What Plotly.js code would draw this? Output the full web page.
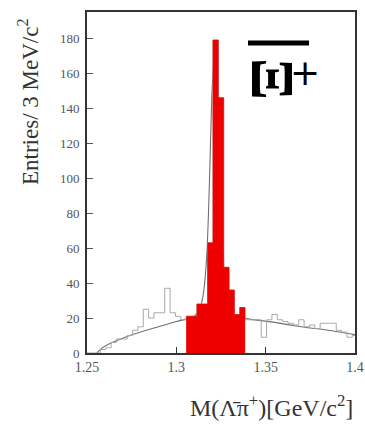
<!DOCTYPE html>
<html>
<head>
<meta charset="utf-8">
<script src="https://cdn.plot.ly/plotly-3.0.1.min.js"></script>
<style>html,body{margin:0;padding:0;background:#fff;}#chart{width:365px;height:430px;}</style>
</head>
<body>
<div id="chart"></div>
<script>
// Invariant mass of anti-Lambda pi+ candidates, 3 MeV bins (bin centres in GeV/c^2)
const massCenters = [
  1.250, 1.253, 1.256, 1.259, 1.262, 1.265, 1.268, 1.271, 1.274, 1.277,
  1.280, 1.283, 1.286, 1.289, 1.292, 1.295, 1.298, 1.301, 1.304, 1.307,
  1.310, 1.313, 1.316, 1.319, 1.322, 1.325, 1.328, 1.331, 1.334, 1.337,
  1.340, 1.343, 1.346, 1.349, 1.352, 1.355, 1.358, 1.361, 1.364, 1.367,
  1.370, 1.373, 1.376, 1.379, 1.382, 1.385, 1.388, 1.391, 1.394, 1.397,
  1.400
];
const entries = [
  0, 0, 0, 2, 3, 6, 8, 8, 10, 13,
  15, 25, 20, 23, 23, 37, 23, 21, 19, 21,
  21, 28, 28, 63, 179, 146, 49, 36, 22, 26,
  19, 19, 19, 9, 19, 22, 19, 18, 17, 16,
  19, 15, 16, 14, 17, 17, 17, 13, 12, 9,
  10
];
const binWidth = 0.003;
// Signal window (filled bins)
const signalLow = 1.305;
const signalHigh = 1.339;

// Fitted line shape (background + peak), sampled points
const fitMass = [1.2555, 1.258, 1.262, 1.270, 1.280, 1.290, 1.300, 1.306, 1.310, 1.313,
                 1.315, 1.317, 1.318, 1.319, 1.320, 1.3215, 1.323, 1.324, 1.325, 1.326,
                 1.327, 1.329, 1.332, 1.336, 1.340, 1.355, 1.370, 1.385, 1.400];
const fitValue = [0, 2.5, 5, 8.5, 12, 15, 18, 19.5, 21, 25,
                  33, 55, 80, 115, 150, 172, 155, 125, 92, 62,
                  42, 27, 21.5, 20.5, 19.5, 17.5, 15, 13, 10.5];

const yTicks = [0, 20, 40, 60, 80, 100, 120, 140, 160, 180];
const xTicks = [1.25, 1.30, 1.35, 1.40];
const xTickText = ['1.25', '1.3', '1.35', '1.4'];

// Step outline of the signal-window bins: left edges plus the closing right edge
const sigEdges = [], sigY = [];
massCenters.forEach((m, i) => {
  if (m > signalLow && m < signalHigh) {
    sigEdges.push(m - binWidth / 2);
    sigY.push(entries[i]);
  }
});
sigEdges.push(sigEdges[sigEdges.length - 1] + binWidth);
sigY.push(sigY[sigY.length - 1]);

const serif = 'Liberation Serif, Times New Roman, serif';

const traces = [
  {
    type: 'scatter', mode: 'lines', x: fitMass, y: fitValue,
    line: {color: '#707070', width: 1.1, shape: 'spline', smoothing: 0.6},
    hoverinfo: 'skip'
  },
  {
    type: 'scatter', mode: 'lines', x: massCenters, y: entries,
    line: {color: '#a8a8a8', width: 1, shape: 'hvh'},
    hoverinfo: 'skip'
  },
  {
    type: 'scatter', mode: 'lines', x: sigEdges, y: sigY,
    line: {color: '#ee0000', width: 0.5, shape: 'hv'},
    fill: 'tozeroy', fillcolor: '#ee0000',
    hoverinfo: 'skip'
  }
];

const layout = {
  width: 365, height: 430,
  margin: {l: 87, r: 10, t: 12, b: 77},
  paper_bgcolor: '#ffffff', plot_bgcolor: '#ffffff',
  showlegend: false,
  xaxis: {
    range: [1.25, 1.40], tickvals: xTicks, ticktext: xTickText,
    ticks: 'inside', ticklen: 6, tickwidth: 1, tickcolor: '#333',
    showline: true, linecolor: '#333', linewidth: 2, mirror: true,
    showgrid: false, zeroline: false,
    tickfont: {family: serif, size: 14, color: '#555'}
  },
  yaxis: {
    range: [0, 195], tickvals: yTicks,
    ticks: 'inside', ticklen: 6, tickwidth: 1, tickcolor: '#555',
    showline: true, linecolor: '#333', linewidth: 2, mirror: true,
    showgrid: false, zeroline: false,
    ticklabelstandoff: 3,
    tickfont: {family: serif, size: 13, color: '#555'}
  },
  shapes: [
    {type: 'line', xref: 'paper', yref: 'paper',
     x0: (248 - 87) / 268, x1: (309 - 87) / 268,
     y0: (353 - 43) / 341, y1: (353 - 43) / 341,
     line: {color: '#000', width: 5}}
  ],
  annotations: [
    {text: 'Entries/ 3 MeV/c<sup>2</sup>', xref: 'paper', yref: 'paper',
     x: (28 - 87) / 268, y: (353 - 102) / 341, xanchor: 'center', yanchor: 'middle',
     textangle: -90, showarrow: false,
     font: {family: serif, size: 23, color: '#333'}},
    {text: 'M(Λ̄π<sup>+</sup>)[GeV/c<sup>2</sup>]', xref: 'paper', yref: 'paper',
     x: 1.0, y: (353 - 406) / 341, xanchor: 'right', yanchor: 'middle',
     showarrow: false,
     font: {family: serif, size: 24, color: '#333'}},
    {text: '<b>Ξ</b>', xref: 'paper', yref: 'paper',
     x: (273 - 87) / 268, y: (353 - 79) / 341, xanchor: 'center', yanchor: 'middle',
     textangle: 90, showarrow: false,
     font: {family: serif, size: 62, color: '#000'}},
    {text: '+', xref: 'paper', yref: 'paper',
     x: (305 - 87) / 268, y: (353 - 73) / 341, xanchor: 'center', yanchor: 'middle',
     showarrow: false,
     font: {family: 'DejaVu Sans, sans-serif', size: 36, color: '#000'}}
  ]
};

Plotly.newPlot('chart', traces, layout, {displayModeBar: false, staticPlot: true});
</script>
</body>
</html>
